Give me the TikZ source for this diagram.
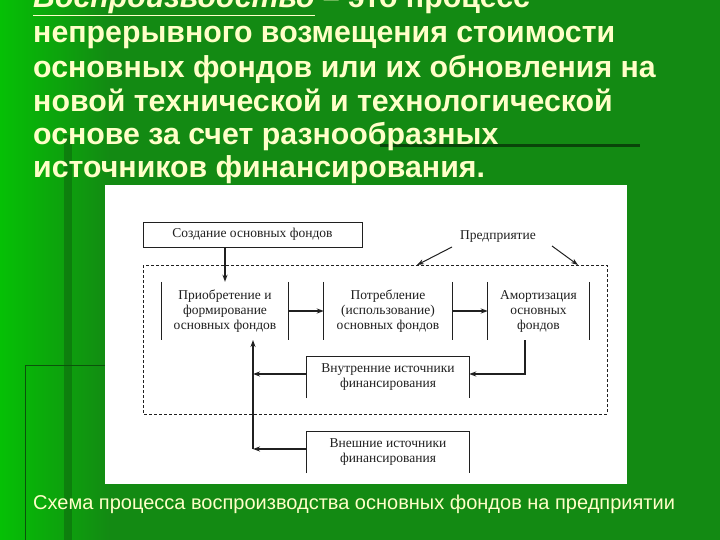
\documentclass[tikz,border=0pt]{standalone}
\usepackage{fontspec}
\setmainfont{Liberation Serif}
\newfontfamily\ar{Liberation Sans}
\usetikzlibrary{arrows.meta}
\definecolor{bg}{HTML}{138A13}
\definecolor{bgl}{HTML}{05C005}
\definecolor{ttl}{HTML}{FFFFC8}
\definecolor{ink}{HTML}{202020}
\begin{document}
\begin{tikzpicture}[x=1pt,y=-1pt,
  tl/.style={anchor=base west,inner sep=0pt,text=ttl,font=\ar\bfseries\fontsize{30.3}{32}\selectfont},
  dtxt/.style={font=\fontsize{13.5}{15}\selectfont,text=ink,align=center,inner sep=0pt},
  ln/.style={draw=ink,line width=0.8pt},
  arr/.style={ln,-{Stealth[length=7pt,width=5pt]},line width=1.3pt}]
\useasboundingbox (0,0) rectangle (720,540);
\fill[bg] (0,0) rectangle (720,540);
\shade[left color=bgl,right color=bg] (0,0) rectangle (110,540);
\fill[black!30!bg,opacity=0.5] (64,135) rectangle (72,540);
\draw[black!40!bg,line width=1pt] (25,540) -- (25,365) -- (105,365);
\draw[black!50!bg,line width=3pt] (380,146) -- (640,146);
% title
\node[tl] (t0) at (33,8) {\underline{\itshape Воспроизводство} – это процесс};
\node[tl] (t1) at (33,43) {непрерывного возмещения стоимости};
\node[tl] (t2) at (33,78) {основных фондов или их обновления на};
\node[tl] (t3) at (33,112) {новой технической и технологической};
\node[tl] (t4) at (33,145) {основе за счет разнообразных};
\node[tl] (t5) at (33,178) {источников финансирования.};
% panel
\fill[white] (105,185) rectangle (627,484);
\node[anchor=base west,inner sep=0pt,text=ttl,font=\ar\fontsize{20}{20}\selectfont] (cap) at (33,509) {Схема процесса воспроизводства основных фондов на предприятии};
% diagram
\node[ln,minimum width=219pt,minimum height=25pt,dtxt] (cr) at (252.5,234.5) {Создание основных фондов};
\draw[ln,dashed,dash pattern=on 3pt off 2pt] (143,265) rectangle (607,414);
\node[dtxt] (pr) at (498,237) {Предприятие};
\coordinate (pa) at (452,247); \coordinate (pb) at (552,246);
\coordinate (dl) at (417,265); \coordinate (dr) at (578,265);
\draw[ln,-{Stealth[length=7pt,width=5pt]},line width=1pt] (pa) -- (dl);
\draw[ln,-{Stealth[length=7pt,width=5pt]},line width=1pt] (pb) -- (dr);
\node[minimum width=126pt,minimum height=58pt,dtxt] (b1) at (225,311) {Приобретение и\\формирование\\основных фондов};
\node[minimum width=128pt,minimum height=58pt,dtxt] (b2) at (388,311) {Потребление\\(использование)\\основных фондов};
\node[minimum width=101pt,minimum height=58pt,dtxt] (b3) at (538.5,311) {Амортизация\\основных\\фондов};
\foreach \b in {b1,b2,b3}{\draw[ln] (\b.north west) -- (\b.south west) (\b.north east) -- (\b.south east);}
\draw[arr] (cr.south -| b1.north) -- (b1.north);
\draw[arr] (b1.east) -- (b2.west);
\draw[arr] (b2.east) -- (b3.west);
\node[minimum width=162pt,minimum height=41pt,dtxt] (vn) at (388,377.5) {Внутренние источники\\финансирования};
\node[minimum width=162pt,minimum height=41pt,dtxt] (ve) at (388,452.5) {Внешние источники\\финансирования};
\foreach \b in {vn,ve}{\draw[ln] (\b.south west) -- (\b.north west) -- (\b.north east) -- (\b.south east);}
\coordinate (j) at (253,374);
\coordinate (k) at (253,449);
\coordinate (up) at (253,340);
\draw[arr] (b3.south -| 525,0) |- (vn.east |- 0,374);
\draw[arr] (vn.west |- 0,374) -- (j);
\draw[arr] (ve.west |- 0,449) -- (k);
\draw[arr] (k) -- (up);
\end{tikzpicture}
\end{document}
